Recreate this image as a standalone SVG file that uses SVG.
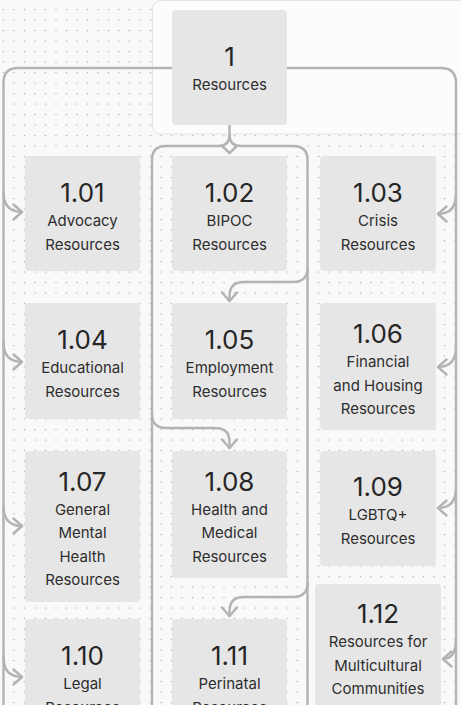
<svg xmlns="http://www.w3.org/2000/svg" width="461" height="705" viewBox="0 0 461 705">
<defs>
<pattern id="dots" x="-1.75" y="-6.25" width="10.5" height="10.5" patternUnits="userSpaceOnUse">
<circle cx="5.25" cy="5.25" r="0.8" fill="#b8b8b8"/>
</pattern>
<marker id="arr" markerUnits="userSpaceOnUse" markerWidth="20" markerHeight="20" refX="10" refY="10" orient="auto" viewBox="0 0 20 20">
<path d="M1.5,2.5 L10,10 L1.5,17.5" fill="none" stroke="#b3b3b3" stroke-width="2.4" stroke-linecap="round" stroke-linejoin="round"/>
</marker>
<style>
.node rect{fill:#e6e6e6;}
.num{font-family:Inter,"Liberation Sans",sans-serif;font-size:26px;fill:#262626;text-anchor:middle;}
.lbl{font-family:Inter,"Liberation Sans",sans-serif;font-size:15px;fill:#2e2e2e;text-anchor:middle;}
.conn path{fill:none;stroke:#b3b3b3;stroke-width:2.4;stroke-linecap:round;stroke-linejoin:round;}
.conn path.a{marker-end:url(#arr);}
</style>
</defs>
<rect width="461" height="705" fill="#f9f9f9"/>
<rect width="461" height="705" fill="url(#dots)"/>
<rect x="152.5" y="0.5" width="330" height="133.5" rx="8" fill="#fcfcfc" stroke="#e4e4e4" stroke-width="1"/>

<g class="conn" id="connectors">
<path d="M172,68 H18 Q3.5,68 3.5,83 V705"/>
<path d="M287,68 H441 Q456,68 456,83 V705"/>
<path class="a" d="M3.5,192 Q3.5,212 22,212"/>
<path class="a" d="M3.5,342 Q3.5,362 22,362"/>
<path class="a" d="M3.5,506 Q3.5,526 22,526"/>
<path class="a" d="M3.5,657 Q3.5,677 22,677"/>
<path class="a" d="M456,194 Q456,214 438,214"/>
<path class="a" d="M456,347 Q456,367 438,367"/>
<path class="a" d="M456,488 Q456,508 438,508"/>
<path class="a" d="M456,639 Q456,659 443,659"/>
<path d="M229.5,125 V135 Q229.5,146 218,146 H166 Q152,146 152,160 V705"/>
<path d="M229.5,135 Q229.5,146 241,146 H293 Q307.5,146 307.5,160 V705"/>
<path d="M222,146 L229.5,153 L237,146"/>
<path class="a" d="M307.5,268 Q307.5,282 293,282 H244 Q229.5,282 229.5,296 V301"/>
<path class="a" d="M152,414 Q152,428 166,428 H215 Q229.5,428 229.5,442 V448"/>
<path class="a" d="M307.5,583 Q307.5,597 293,597 H244 Q229.5,597 229.5,611 V616"/>
</g>

<g class="node" id="n1"><rect x="172" y="10" width="115" height="115" rx="4"/>
<text class="num" x="229.5" y="66">1</text><text class="lbl" x="229.5" y="90">Resources</text></g>

<g class="node" id="n101"><rect x="25" y="156" width="115" height="115" rx="4"/>
<text class="num" x="82.5" y="202">1.01</text><text class="lbl" x="82.5" y="226">Advocacy</text><text class="lbl" x="82.5" y="249.5">Resources</text></g>
<g class="node" id="n102"><rect x="172" y="156" width="115" height="115" rx="4"/>
<text class="num" x="229.5" y="202">1.02</text><text class="lbl" x="229.5" y="226">BIPOC</text><text class="lbl" x="229.5" y="249.5">Resources</text></g>
<g class="node" id="n103"><rect x="320" y="156" width="116" height="115" rx="4"/>
<text class="num" x="378" y="202">1.03</text><text class="lbl" x="378" y="226">Crisis</text><text class="lbl" x="378" y="249.5">Resources</text></g>

<g class="node" id="n104"><rect x="25" y="303" width="115" height="116" rx="4"/>
<text class="num" x="82.5" y="349">1.04</text><text class="lbl" x="82.5" y="373">Educational</text><text class="lbl" x="82.5" y="396.5">Resources</text></g>
<g class="node" id="n105"><rect x="172" y="303" width="115" height="116" rx="4"/>
<text class="num" x="229.5" y="349">1.05</text><text class="lbl" x="229.5" y="373">Employment</text><text class="lbl" x="229.5" y="396.5">Resources</text></g>
<g class="node" id="n106"><rect x="320" y="303" width="116" height="127" rx="4"/>
<text class="num" x="378" y="343">1.06</text><text class="lbl" x="378" y="367">Financial</text><text class="lbl" x="378" y="390.5">and Housing</text><text class="lbl" x="378" y="414">Resources</text></g>

<g class="node" id="n107"><rect x="25" y="451" width="115" height="151" rx="4"/>
<text class="num" x="82.5" y="491">1.07</text><text class="lbl" x="82.5" y="514.5">General</text><text class="lbl" x="82.5" y="538">Mental</text><text class="lbl" x="82.5" y="561.5">Health</text><text class="lbl" x="82.5" y="585">Resources</text></g>
<g class="node" id="n108"><rect x="172" y="451" width="115" height="127" rx="4"/>
<text class="num" x="229.5" y="491">1.08</text><text class="lbl" x="229.5" y="514.5">Health and</text><text class="lbl" x="229.5" y="538">Medical</text><text class="lbl" x="229.5" y="561.5">Resources</text></g>
<g class="node" id="n109"><rect x="320" y="451" width="116" height="115" rx="4"/>
<text class="num" x="378" y="496">1.09</text><text class="lbl" x="378" y="520">LGBTQ+</text><text class="lbl" x="378" y="543.5">Resources</text></g>

<g class="node" id="n110"><rect x="25" y="619" width="115" height="115" rx="4"/>
<text class="num" x="82.5" y="665">1.10</text><text class="lbl" x="82.5" y="689">Legal</text><text class="lbl" x="82.5" y="712.5">Resources</text></g>
<g class="node" id="n111"><rect x="172" y="619" width="115" height="115" rx="4"/>
<text class="num" x="229.5" y="665">1.11</text><text class="lbl" x="229.5" y="689">Perinatal</text><text class="lbl" x="229.5" y="712.5">Resources</text></g>
<g class="node" id="n112"><rect x="315" y="584" width="126" height="140" rx="4"/>
<text class="num" x="378" y="623">1.12</text><text class="lbl" x="378" y="647">Resources for</text><text class="lbl" x="378" y="670.5">Multicultural</text><text class="lbl" x="378" y="694">Communities</text></g>
</svg>
